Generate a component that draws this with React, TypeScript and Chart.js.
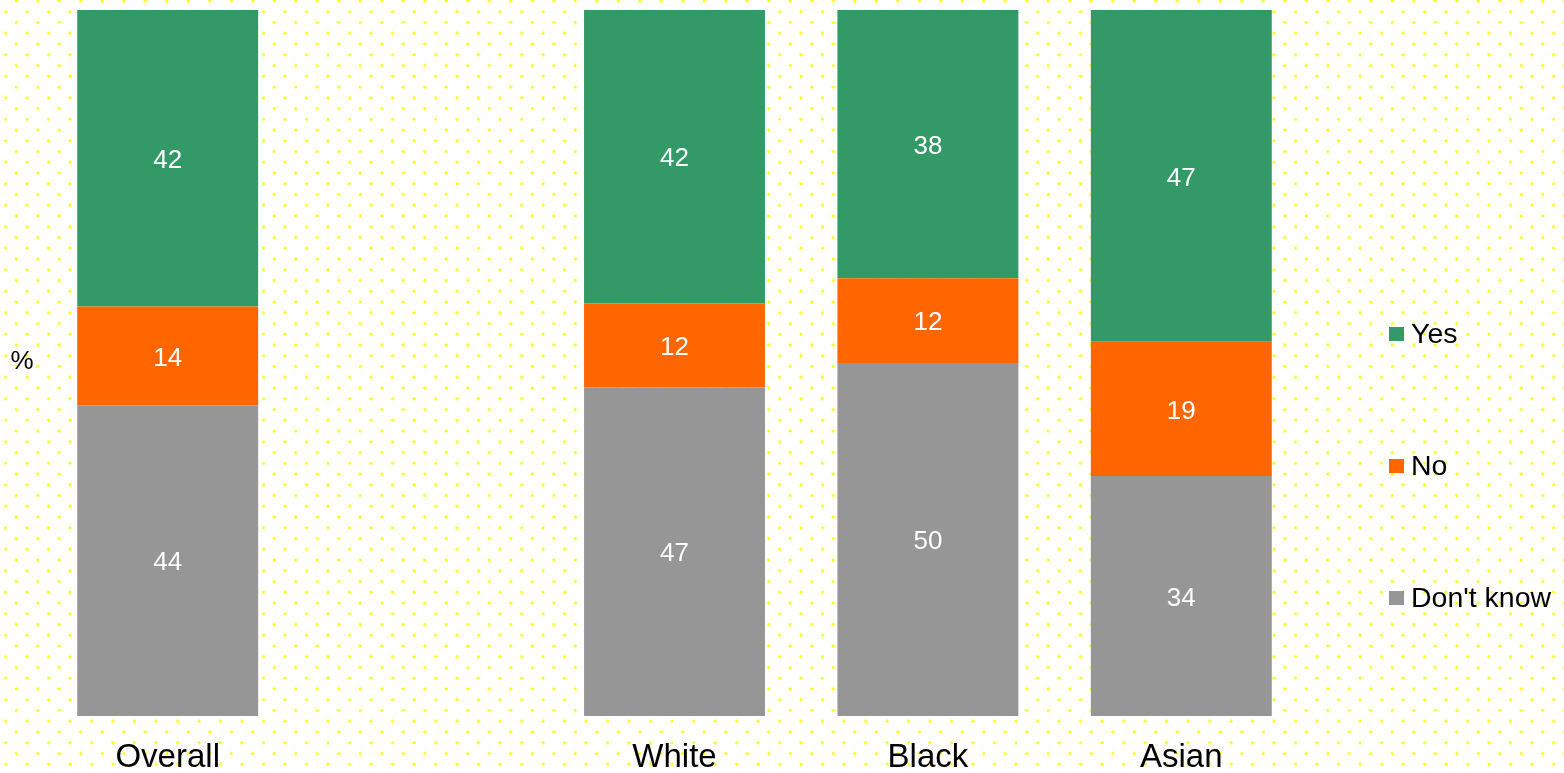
import React, { useEffect, useRef } from 'react';
import { Chart, registerables } from 'chart.js';

Chart.register(...registerables);

const categories = ['Overall', '', 'White', 'Black', 'Asian'];
const yesValues = [42, null, 42, 38, 47];
const noValues = [14, null, 12, 12, 19];
const dontKnowValues = [44, null, 47, 50, 34];
const seriesNames = ['Yes', 'No', "Don't know"];
const seriesColors = ['#339966', '#ff6600', '#969696'];
const yAxisLabel = '%';

const FONT = '"Liberation Sans", Arial, Helvetica, sans-serif';

const totals = categories.map((_, i) => {
  const vals = [yesValues[i], noValues[i], dontKnowValues[i]];
  if (vals.some((v) => v == null)) return null;
  return (vals as number[]).reduce((a, b) => a + b, 0);
});

const toShare = (arr: (number | null)[]) =>
  arr.map((v, i) => (v == null || totals[i] == null ? null : (v / (totals[i] as number)) * 100));

const valueLabelsPlugin = {
  id: 'valueLabels',
  afterDatasetsDraw(chart: any) {
    const ctx = chart.ctx;
    ctx.save();
    ctx.font = `26px ${FONT}`;
    ctx.fillStyle = '#ffffff';
    ctx.textAlign = 'center';
    ctx.textBaseline = 'middle';
    chart.data.datasets.forEach((ds: any, i: number) => {
      const meta = chart.getDatasetMeta(i);
      meta.data.forEach((bar: any, j: number) => {
        const v = ds.rawValues[j];
        if (v == null) return;
        const { x, y, base } = bar.getProps(['x', 'y', 'base'], true);
        ctx.fillText(String(v), x, (y + base) / 2 + 2.5);
      });
    });
    ctx.restore();
  },
};

const sideTextPlugin = {
  id: 'sideText',
  afterDraw(chart: any) {
    const ctx = chart.ctx;
    const area = chart.chartArea;
    ctx.save();
    // y axis unit label
    ctx.font = `26px ${FONT}`;
    ctx.fillStyle = '#000000';
    ctx.textAlign = 'center';
    ctx.textBaseline = 'middle';
    ctx.fillText(yAxisLabel, 22, (area.top + area.bottom) / 2 - 1);
    // legend (top-to-bottom: Yes, No, Don't know)
    const items = [...chart.data.datasets].reverse();
    const centers = [334, 466, 598];
    ctx.font = `28.5px ${FONT}`;
    ctx.textAlign = 'left';
    items.forEach((ds: any, k: number) => {
      const cy = centers[k];
      ctx.fillStyle = ds.backgroundColor;
      ctx.fillRect(1389, cy - 7, 15, 14);
      ctx.fillStyle = '#000000';
      ctx.fillText(ds.label, 1411, cy + 1);
    });
    ctx.restore();
  },
};

export default function App() {
  const canvasRef = useRef<HTMLCanvasElement | null>(null);

  useEffect(() => {
    document.body.style.margin = '0';
    const canvas = canvasRef.current;
    if (!canvas) return;
    const datasets = [
      { label: seriesNames[2], raw: dontKnowValues, color: seriesColors[2] },
      { label: seriesNames[1], raw: noValues, color: seriesColors[1] },
      { label: seriesNames[0], raw: yesValues, color: seriesColors[0] },
    ].map((d) => ({
      label: d.label,
      data: toShare(d.raw),
      rawValues: d.raw,
      backgroundColor: d.color,
      borderWidth: 0,
      barPercentage: 0.714,
      categoryPercentage: 1,
    }));

    const chart = new Chart(canvas, {
      type: 'bar',
      data: { labels: categories, datasets: datasets as any },
      options: {
        responsive: false,
        animation: false,
        devicePixelRatio: 1,
        layout: { padding: { left: 41, right: 256, top: 10, bottom: 0 } },
        scales: {
          x: {
            stacked: true,
            grid: { display: false, drawTicks: false },
            border: { display: false },
            ticks: {
              color: '#000000',
              padding: 22,
              font: { family: FONT, size: 33 },
              maxRotation: 0,
              autoSkip: false,
            },
            afterFit(scale: any) {
              scale.height = 57;
            },
          },
          y: {
            stacked: true,
            display: false,
            min: 0,
            max: 100,
          },
        },
        plugins: {
          legend: { display: false },
          tooltip: { enabled: false },
          title: { display: false },
        },
      },
      plugins: [valueLabelsPlugin, sideTextPlugin],
    });
    return () => chart.destroy();
  }, []);

  const dot =
    'radial-gradient(circle at center, #ffff00 0px, #ffff00 0.9px, rgba(255,255,0,0.45) 1.5px, rgba(255,255,0,0) 2.1px)';

  return (
    <div
      style={{
        width: 1564,
        height: 773,
        backgroundColor: '#ffffff',
        backgroundImage: `${dot}, ${dot}`,
        backgroundSize: '21.5px 21.5px, 21.5px 21.5px',
        backgroundPosition: '5.55px -9.75px, -5.2px 1px',
        position: 'relative',
      }}
    >
      <canvas ref={canvasRef} width={1564} height={773} style={{ display: 'block' }} />
    </div>
  );
}
